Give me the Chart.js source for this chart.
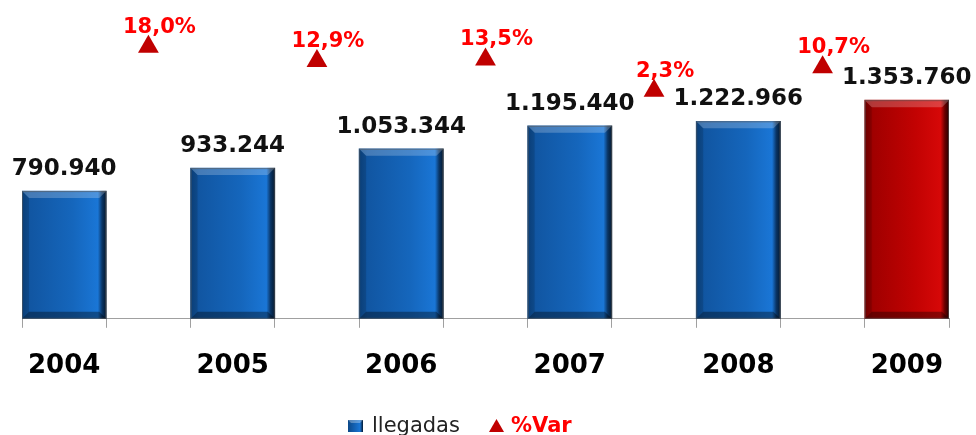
<!DOCTYPE html>
<html lang="es">
<head>
<meta charset="UTF-8">
<script src="https://cdn.jsdelivr.net/npm/chart.js"></script>
<title>Llegadas 2004-2009</title>
<style>
    html, body { margin: 0; padding: 0; background: #ffffff; }
    #chart_container { width: 976px; height: 435px; }
</style>
</head>
<body>
<div id="chart_container">
    <canvas id="chart_canvas" width="976" height="435"></canvas>
</div>
<script>
    // Data
    const years = ['2004', '2005', '2006', '2007', '2008', '2009'];
    const llegadas = [790940, 933244, 1053344, 1195440, 1222966, 1353760];
    const varPct = [18.0, 12.9, 13.5, 2.3, 10.7];

    // Interleave: one slot per year, one empty slot between years for the %Var marker
    const labels = [], barData = [], varData = [];
    years.forEach((y, i) => {
        labels.push(y);
        barData.push(llegadas[i]);
        varData.push(null);
        if (i < years.length - 1) {
            labels.push('');
            barData.push(null);
            varData.push(varPct[i]);
        }
    });

    const FONT = '"DejaVu Sans", Verdana, sans-serif';

    function fmtThousands(v) {
        return String(v).replace(/\B(?=(\d{3})+(?!\d))/g, '.');
    }
    function fmtPct(v) {
        return v.toFixed(1).replace('.', ',') + '%';
    }

    // Horizontal gradient per bar to get the bevelled 3D look
    function barColor(ctx) {
        const chart = ctx.chart;
        const isLast = ctx.dataIndex === labels.length - 1;
        const flat = isLast ? '#b80000' : '#1564b6';
        const xs = chart.scales.x;
        if (!xs || !chart.chartArea) return flat;
        const w = xs.width / labels.length;
        const cx = xs.getPixelForValue(ctx.dataIndex);
        const g = chart.ctx.createLinearGradient(cx - w / 2, 0, cx + w / 2, 0);
        if (isLast) {
            g.addColorStop(0, '#7e0000');
            g.addColorStop(0.1, '#a00000');
            g.addColorStop(0.6, '#c20202');
            g.addColorStop(0.9, '#d60808');
            g.addColorStop(0.95, '#6a0000');
            g.addColorStop(1, '#260000');
        } else {
            g.addColorStop(0, '#0c4888');
            g.addColorStop(0.1, '#1156a2');
            g.addColorStop(0.6, '#1566bc');
            g.addColorStop(0.9, '#1a76d6');
            g.addColorStop(0.95, '#0a3565');
            g.addColorStop(1, '#03182f');
        }
        return g;
    }

    // Bevel highlights on top/bottom of each bar and the value labels
    const labelsPlugin = {
        id: 'labelsPlugin',
        afterDatasetsDraw(chart) {
            const c = chart.ctx;
            const barMeta = chart.getDatasetMeta(0);
            barMeta.data.forEach((bar, i) => {
                if (barData[i] === null) return;
                const { x, y, base, width } = bar.getProps(['x', 'y', 'base', 'width'], true);
                const l = x - width / 2, r = x + width / 2, b = 7;
                c.save();
                c.fillStyle = 'rgba(255,255,255,0.22)';
                c.beginPath();
                c.moveTo(l, y); c.lineTo(r, y); c.lineTo(r - b, y + b); c.lineTo(l + b, y + b);
                c.closePath(); c.fill();
                c.fillStyle = 'rgba(0,0,0,0.35)';
                c.beginPath();
                c.moveTo(l, base); c.lineTo(r, base); c.lineTo(r - b, base - b); c.lineTo(l + b, base - b);
                c.closePath(); c.fill();
                c.fillStyle = 'rgba(0,0,0,0.12)';
                c.beginPath();
                c.moveTo(l, y); c.lineTo(l + b, y + b); c.lineTo(l + b, base - b); c.lineTo(l, base);
                c.closePath(); c.fill();
                c.strokeStyle = 'rgba(90,90,90,0.6)';
                c.lineWidth = 1;
                c.strokeRect(l + 0.5, y + 0.5, width - 1, base - y - 1);
                c.fillStyle = '#111111';
                c.font = 'bold 23px ' + FONT;
                c.textAlign = 'center';
                c.textBaseline = 'alphabetic';
                c.fillText(fmtThousands(barData[i]), x, y - 16);
                c.restore();
            });
            const varMeta = chart.getDatasetMeta(1);
            varMeta.data.forEach((pt, i) => {
                if (varData[i] === null) return;
                c.save();
                c.fillStyle = '#ff0000';
                c.font = 'bold 21px ' + FONT;
                c.textAlign = 'center';
                c.textBaseline = 'alphabetic';
                c.fillText(fmtPct(varData[i]), pt.x + 11, pt.y - 14);
                c.restore();
            });
        },
        afterDraw(chart) {
            // Legend
            const c = chart.ctx;
            c.save();
            const grad = c.createLinearGradient(348, 0, 363, 0);
            grad.addColorStop(0, '#0c4888');
            grad.addColorStop(0.8, '#1a76d6');
            grad.addColorStop(1, '#03182f');
            c.fillStyle = grad;
            c.fillRect(348, 420, 15, 12);
            c.fillStyle = 'rgba(255,255,255,0.3)';
            c.beginPath(); c.moveTo(348, 420); c.lineTo(363, 420); c.lineTo(360, 423); c.lineTo(351, 423); c.closePath(); c.fill();
            c.font = '21px ' + FONT;
            c.fillStyle = '#222222';
            c.textBaseline = 'alphabetic';
            c.textAlign = 'left';
            c.fillText('llegadas', 372, 432);
            c.fillStyle = '#c00000';
            c.beginPath(); c.moveTo(496.5, 419); c.lineTo(504, 432); c.lineTo(489, 432); c.closePath(); c.fill();
            c.font = 'bold 21px ' + FONT;
            c.fillStyle = '#ff0000';
            c.fillText('%Var', 511, 432);
            c.restore();
        }
    };

    const ctx = document.getElementById('chart_canvas').getContext('2d');
    const chart = new Chart(ctx, {
        type: 'bar',
        data: {
            labels: labels,
            datasets: [{
                label: 'llegadas',
                data: barData,
                backgroundColor: barColor,
                borderWidth: 0,
                categoryPercentage: 1.0,
                barPercentage: 1.0,
                yAxisID: 'y',
                order: 2
            }, {
                type: 'line',
                label: '%Var',
                data: varData,
                showLine: false,
                pointStyle: 'triangle',
                pointRadius: 12,
                pointBackgroundColor: '#c00000',
                pointBorderColor: '#c00000',
                pointBorderWidth: 0,
                yAxisID: 'y2',
                order: 1
            }]
        },
        options: {
            responsive: false,
            animation: false,
            layout: { padding: { left: 22, right: 27, top: 10, bottom: 30 } },
            plugins: {
                legend: { display: false },
                tooltip: { enabled: false }
            },
            scales: {
                x: {
                    offset: true,
                    grid: {
                        offset: true,
                        drawOnChartArea: false,
                        drawTicks: true,
                        tickLength: 9,
                        color: '#a0a0a0'
                    },
                    border: { display: true, color: '#a0a0a0', width: 1 },
                    ticks: {
                        autoSkip: false,
                        maxRotation: 0,
                        padding: 23,
                        color: '#000000',
                        font: { family: FONT, size: 26, weight: 'bold' }
                    }
                },
                y: { display: false, min: 0, max: 1900000 },
                y2: { display: false, min: -79.5, max: 30.5 }
            }
        },
        plugins: [labelsPlugin]
    });
</script>
</body>
</html>
